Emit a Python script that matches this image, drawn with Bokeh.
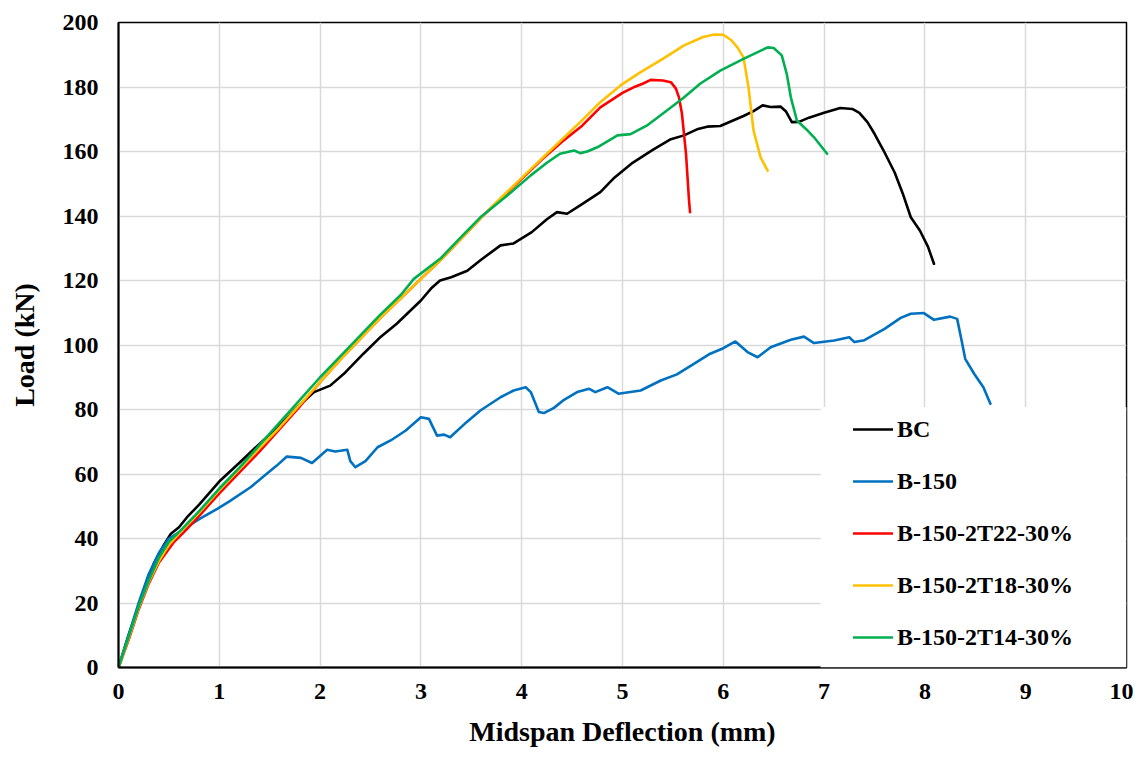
from bokeh.plotting import figure
from bokeh.models import Range1d, FixedTicker, Legend, LegendItem, BoxAnnotation
from bokeh.embed import file_html
from bokeh.resources import INLINE

# ---------------- data ----------------
bc_x = [0, 0.1, 0.22, 0.35, 0.45, 0.52, 0.6, 0.68, 0.8, 1.01, 1.2, 1.38, 1.6, 1.8, 1.94, 2.1, 2.25, 2.43, 2.6, 2.76, 3.0, 3.1, 3.19, 3.3, 3.46, 3.6, 3.79, 3.92, 4.1, 4.25, 4.35, 4.45, 4.58, 4.78, 4.91, 5.1, 5.3, 5.48, 5.61, 5.75, 5.84, 5.97, 6.2, 6.3, 6.39, 6.47, 6.57, 6.62, 6.68, 6.75, 6.85, 7.0, 7.16, 7.28, 7.35, 7.43, 7.5, 7.59, 7.7, 7.78, 7.86, 7.95, 8.03, 8.09]
bc_y = [0, 10, 20.8, 32.2, 38, 41.5, 43.5, 46.6, 50.5, 58, 63.5, 68.8, 75, 81.5, 85.4, 87.4, 91.5, 97.3, 102.5, 106.6, 113.8, 117.5, 120, 121, 123, 126.5, 130.9, 131.5, 135, 139, 141.2, 140.7, 143.3, 147.4, 151.6, 156.5, 160.5, 163.8, 165, 167, 167.7, 167.9, 171, 172.5, 174.3, 173.8, 173.9, 172.5, 169.1, 169.2, 170.5, 172, 173.5, 173.2, 172, 169.1, 165.5, 160.3, 153.5, 147, 139.6, 135.5, 130.5, 125.2]

b150_x = [0, 0.1, 0.2, 0.3, 0.4, 0.5, 0.58, 0.7, 0.8, 0.98, 1.1, 1.31, 1.45, 1.57, 1.67, 1.81, 1.92, 2.07, 2.15, 2.27, 2.3, 2.35, 2.45, 2.57, 2.7, 2.85, 3.0, 3.08, 3.16, 3.23, 3.29, 3.45, 3.59, 3.79, 3.92, 4.04, 4.09, 4.17, 4.22, 4.32, 4.42, 4.55, 4.67, 4.73, 4.85, 4.96, 5.18, 5.38, 5.54, 5.7, 5.87, 6.0, 6.12, 6.24, 6.34, 6.47, 6.67, 6.8, 6.9, 7.1, 7.25, 7.3, 7.4, 7.6, 7.76, 7.86, 7.99, 8.09, 8.25, 8.32, 8.36, 8.4, 8.49, 8.58, 8.65]
b150_y = [0, 10, 20, 29, 35.5, 40, 41.5, 44, 46, 49.2, 51.5, 55.9, 59.5, 62.6, 65.4, 65, 63.4, 67.5, 67, 67.5, 64, 62.1, 64, 68.3, 70.4, 73.5, 77.6, 77.1, 71.9, 72.2, 71.4, 76, 79.7, 83.8, 85.9, 86.9, 85.4, 79.2, 78.9, 80.5, 83, 85.4, 86.4, 85.4, 86.9, 84.9, 85.9, 89, 90.9, 94, 97.3, 99, 101.1, 97.8, 96.2, 99.3, 101.6, 102.6, 100.6, 101.4, 102.4, 100.9, 101.5, 105, 108.4, 109.7, 109.9, 107.8, 108.8, 108.1, 102, 95.7, 91, 86.9, 81.8]

t22_x = [0, 0.1, 0.2, 0.3, 0.4, 0.55, 0.65, 0.8, 1.0, 1.2, 1.4, 1.6, 1.8, 2.0, 2.2, 2.4, 2.6, 2.8, 3.0, 3.2, 3.4, 3.6, 3.8, 4.0, 4.2, 4.4, 4.6, 4.78, 5.0, 5.11, 5.2, 5.28, 5.4, 5.48, 5.53, 5.56, 5.59, 5.63, 5.66, 5.67]
t22_y = [0, 8.5, 18, 26, 32.5, 38.9, 42, 47, 54, 60.5, 67, 74, 81, 88.5, 95.5, 102, 108.5, 114.5, 120.5, 126.5, 133, 139.6, 145.5, 151.5, 157.5, 163, 168, 173.7, 178.2, 179.9, 181, 182.2, 182, 181.5, 179.5, 176.8, 171.7, 159.3, 144.8, 141.2]

t18_x = [0, 0.1, 0.2, 0.3, 0.4, 0.5, 0.6, 0.8, 1.0, 1.2, 1.4, 1.6, 1.8, 2.0, 2.2, 2.4, 2.6, 2.8, 3.0, 3.2, 3.4, 3.6, 3.8, 3.99, 4.25, 4.58, 4.78, 4.98, 5.18, 5.4, 5.61, 5.8, 5.91, 6.0, 6.08, 6.14, 6.2, 6.25, 6.3, 6.37, 6.44]
t18_y = [0, 9, 18.5, 26.5, 33, 38, 41.5, 48, 55, 61.5, 68, 74.5, 81.5, 88.5, 95.5, 102, 108.5, 114.5, 120.5, 126.5, 133, 139.6, 145.8, 151.5, 159.3, 169.1, 175.3, 180.5, 184.6, 188.7, 192.9, 195.5, 196.3, 196.2, 194.5, 192.3, 189.2, 179.9, 166.5, 158.2, 154.1]

t14_x = [0, 0.1, 0.2, 0.3, 0.4, 0.5, 0.6, 0.8, 1.0, 1.2, 1.4, 1.6, 1.8, 2.0, 2.2, 2.4, 2.6, 2.8, 2.93, 3.2, 3.4, 3.59, 3.86, 4.09, 4.25, 4.38, 4.52, 4.58, 4.65, 4.75, 4.95, 5.08, 5.24, 5.44, 5.6, 5.77, 5.97, 6.2, 6.44, 6.5, 6.58, 6.63, 6.67, 6.73, 6.82, 6.9, 7.03]
t14_y = [0, 9.5, 19, 27, 34, 39, 42, 48.5, 55.5, 62, 69, 76, 83, 90, 96.5, 103, 109.5, 115.5, 120.5, 127, 133.5, 139.6, 146.4, 152.6, 156.5, 159.3, 160.3, 159.5, 160, 161.3, 165, 165.4, 168, 172.7, 176.5, 181, 185.1, 188.7, 192.3, 192.1, 189.8, 184, 176.8, 169.6, 167, 164.4, 159.3]

names = ["BC", "B-150", "B-150-2T22-30%", "B-150-2T18-30%", "B-150-2T14-30%"]
colors = ["#000000", "#0070C0", "#FF0000", "#FFC000", "#00B050"]
x_ticks = [0, 1, 2, 3, 4, 5, 6, 7, 8, 9, 10]
y_ticks = [0, 20, 40, 60, 80, 100, 120, 140, 160, 180, 200]
x_title = "Midspan Deflection (mm)"
y_title = "Load (kN)"

FONT = "Liberation Serif"

p = figure(width=1133, height=750, output_backend="svg", toolbar_location=None,
           x_range=Range1d(0, 10), y_range=Range1d(0, 200),
           min_border_left=118, min_border_right=7, min_border_top=22, min_border_bottom=83)

p.background_fill_color = "white"
p.border_fill_color = "white"
p.outline_line_color = "#000000"
p.outline_line_width = 1.5

for ax in (p.xaxis[0], p.yaxis[0]):
    ax.major_tick_in = 0
    ax.major_tick_out = 0
    ax.minor_tick_in = 0
    ax.minor_tick_out = 0
    ax.axis_line_color = "#000000"
    ax.axis_line_width = 2
    ax.major_label_text_font = FONT
    ax.major_label_text_font_style = "bold"
    ax.major_label_text_font_size = "24px"
    ax.major_label_text_color = "#000000"
    ax.axis_label_text_font = FONT
    ax.axis_label_text_font_style = "bold"
    ax.axis_label_text_font_size = "28px"
    ax.axis_label_text_color = "#000000"

p.xaxis.ticker = FixedTicker(ticks=x_ticks)
p.yaxis.ticker = FixedTicker(ticks=y_ticks)
p.xaxis.axis_label = x_title
p.yaxis.axis_label = y_title
p.xaxis.major_label_standoff = 16
p.yaxis.major_label_standoff = 20
p.xaxis.axis_label_standoff = 14
p.yaxis.axis_label_standoff = 20

p.xgrid.ticker = FixedTicker(ticks=x_ticks)
p.ygrid.ticker = FixedTicker(ticks=y_ticks)
for g in (p.xgrid[0], p.ygrid[0]):
    g.grid_line_color = "#d9d9d9"
    g.grid_line_width = 1.5

series = [(bc_x, bc_y), (b150_x, b150_y), (t22_x, t22_y), (t18_x, t18_y), (t14_x, t14_y)]
renderers = []
for (xs, ys), c in zip(series, colors):
    r = p.line(xs, ys, line_color=c, line_width=2.6, line_join="round", line_cap="round")
    renderers.append(r)

# white panel behind the legend
p.add_layout(BoxAnnotation(left=6.965, right=10, bottom=0, top=80.8,
                           fill_color="white", fill_alpha=1.0, line_alpha=0))

legend = Legend(items=[LegendItem(label=n, renderers=[r]) for n, r in zip(names, renderers)],
                location=(735, 16), orientation="vertical",
                background_fill_alpha=0, border_line_alpha=0,
                padding=0, margin=0, spacing=24,
                glyph_width=40, glyph_height=28, label_height=28, label_standoff=4,
                label_text_font=FONT, label_text_font_style="bold",
                label_text_font_size="24px", label_text_color="#000000")
p.add_layout(legend)

open("out.html", "w").write(file_html(p, INLINE))
